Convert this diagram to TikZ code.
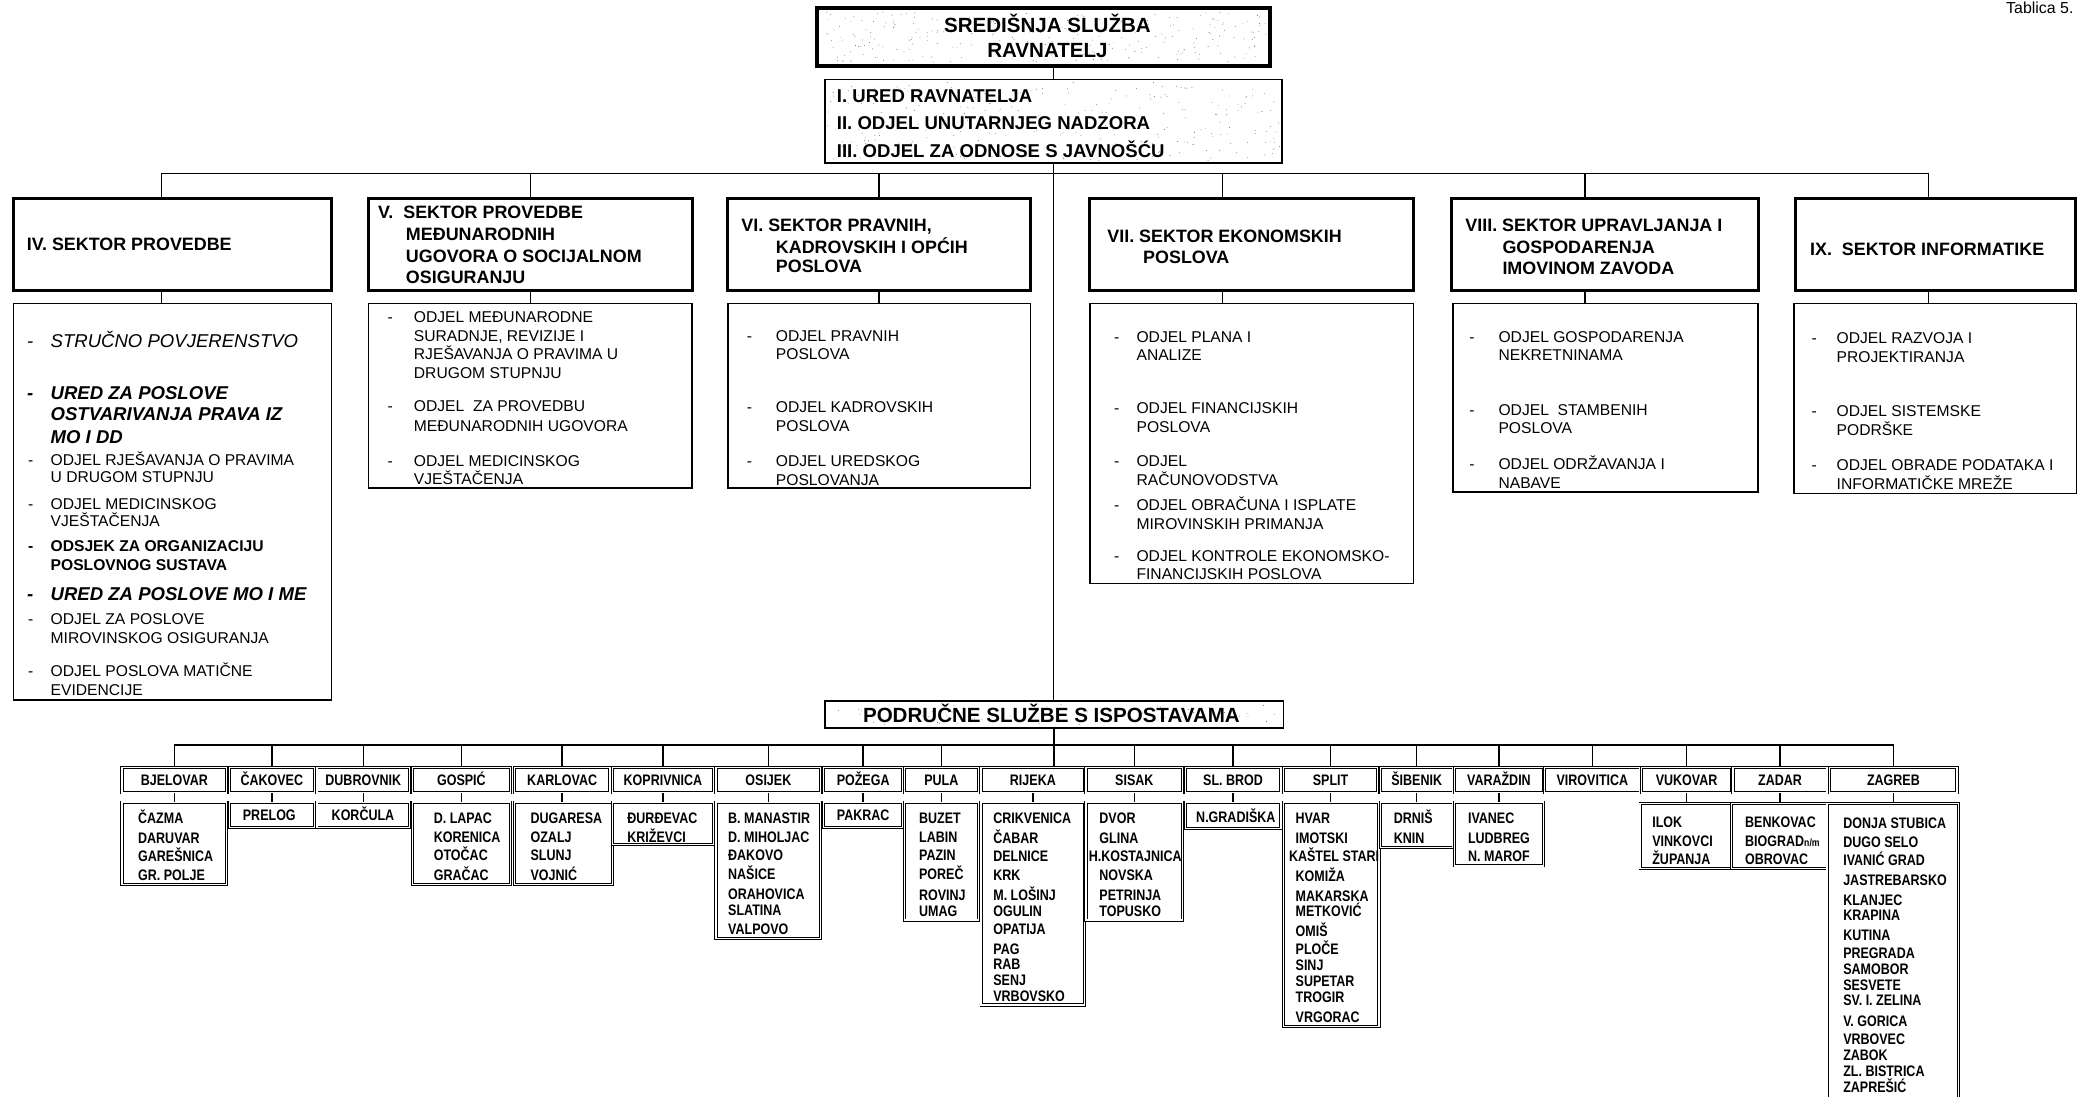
\documentclass[tikz,border=0pt]{standalone}
\usepackage{fontspec}
\setmainfont{Liberation Sans}
\newfontfamily\cond[FakeStretch=0.82]{Liberation Sans}
\newcommand\mydash[1]{\llap{-\hspace{#1pt}}}
\newcommand\mkbox[7]{\node[#2, minimum width={#5-#3}, minimum height={#6-#4}] (#1) at ({(#3+#5)/2},{(#4+#6)/2}) {#7};}
\newcommand\myspeck[5]{\foreach \k in {1,...,#5}{\fill[black!60] ({#1+rnd*(#3-#1)},{#2+rnd*(#4-#2)}) circle (0.33pt);}}
\newcommand\mylines[4]{\foreach \y/\t [count=\i] in {#4} {\node[#2] (#1-\i) at (#3,\y) {\t};}}
\newcommand\fbi{\fontsize{14}{16}\selectfont\bfseries\itshape}
\newcommand\fii{\fontsize{14}{16}\selectfont\itshape}
\newcommand\fbb{\bfseries}
\begin{document}
\begin{tikzpicture}[x=1pt,y=-1pt,
 conn/.style={line width=1.1pt},
 secbox/.style={draw, line width=2.3pt, inner sep=0pt},
 topbox/.style={draw, line width=3pt, inner sep=0pt},
 midbox/.style={draw, line width=1.4pt, inner sep=0pt},
 lstbox/.style={draw, line width=1.1pt, inner sep=0pt},
 regbox/.style={draw, double, double distance=1.1pt, line width=0.65pt, inner sep=0pt, font=\cond\bfseries\fontsize{11.5}{13}\selectfont, text height=8.2pt, text depth=0pt},
 subbox/.style={draw, double, double distance=1.1pt, line width=0.65pt, inner sep=0pt},
 titletxt/.style={anchor=west, inner sep=0pt, font=\bfseries\fontsize{13.5}{16}\selectfont, text height=9.7pt, text depth=0pt},
 itemtxt/.style={anchor=west, inner sep=0pt, font=\fontsize{11.8}{14}\selectfont, text height=8.4pt, text depth=0pt},
 subtxt/.style={anchor=west, inner sep=0pt, font=\cond\bfseries\fontsize{11.5}{13}\selectfont, text height=8.2pt, text depth=0pt},
 bigtxt/.style={inner sep=0pt, font=\bfseries\fontsize{15.5}{18}\selectfont, text height=11.1pt, text depth=0pt},
 urdtxt/.style={anchor=west, inner sep=0pt, font=\bfseries\fontsize{14}{16}\selectfont, text height=10pt, text depth=0pt}
]
\useasboundingbox (0,0) rectangle (1568,827);
\fill[white] (0,0) rectangle (1568,827);
\pgfmathsetseed{42}

\node[anchor=base east, inner sep=0pt, font=\fontsize{12}{14}\selectfont] (tab) at (1564,10) {Tablica 5.};

% top
\mkbox{top}{topbox}{616}{6}{958}{50}{}
\myspeck{619}{9}{955}{47}{260}
\node[bigtxt] (t1) at (790,19) {SREDIŠNJA SLUŽBA};
\node[bigtxt] (t2) at (790,38) {RAVNATELJ};

\mkbox{ured}{midbox}{622}{60}{967}{123}{}
\myspeck{624}{62}{965}{121}{260}
\node[urdtxt] (u1) at (631,72) {I. URED RAVNATELJA};
\node[urdtxt] (u2) at (631,93) {II. ODJEL UNUTARNJEG NADZORA};
\node[urdtxt] (u3) at (631,114) {III. ODJEL ZA ODNOSE S JAVNOŠĆU};

% sector boxes
\mkbox{sIV}{secbox}{10}{150}{250}{219}{}
\mkbox{sV}{secbox}{278}{150}{522}{219}{}
\mkbox{sVI}{secbox}{549}{150}{777}{219}{}
\mkbox{sVII}{secbox}{822}{150}{1066}{219}{}
\mkbox{sVIII}{secbox}{1095}{150}{1326}{219}{}
\mkbox{sIX}{secbox}{1354}{150}{1565}{219}{}

\node[titletxt] (hIV) at (20,184) {IV. SEKTOR PROVEDBE};
\node[titletxt] (hV1) at (285,160) {V.~~SEKTOR PROVEDBE};
\node[titletxt] (hV2) at (306,176.5) {MEĐUNARODNIH};
\node[titletxt] (hV3) at (306,193) {UGOVORA O SOCIJALNOM};
\node[titletxt] (hV4) at (306,209) {OSIGURANJU};
\node[titletxt] (hVI1) at (559,170) {VI. SEKTOR PRAVNIH,};
\node[titletxt] (hVI2) at (585,186) {KADROVSKIH I OPĆIH};
\node[titletxt] (hVI3) at (585,201) {POSLOVA};
\node[titletxt] (hVII1) at (835,178) {VII. SEKTOR EKONOMSKIH};
\node[titletxt] (hVII2) at (862,194) {POSLOVA};
\node[titletxt] (hVIII1) at (1105,170) {VIII. SEKTOR UPRAVLJANJA I};
\node[titletxt] (hVIII2) at (1133,186) {GOSPODARENJA};
\node[titletxt] (hVIII3) at (1133,202) {IMOVINOM ZAVODA};
\node[titletxt] (hIX) at (1365,188) {IX.~~SEKTOR INFORMATIKE};

% list boxes
\mkbox{lIV}{lstbox}{10}{229}{250}{528}{}
\mkbox{lV}{lstbox}{278}{229}{522}{368}{}
\mkbox{lVI}{lstbox}{549}{229}{777}{368}{}
\mkbox{lVII}{lstbox}{822}{229}{1066}{440}{}
\mkbox{lVIII}{lstbox}{1096}{229}{1326}{371}{}
\mkbox{lIX}{lstbox}{1353}{229}{1566}{372}{}

\mylines{iIV}{itemtxt}{38}{258/{\fii\mydash{13}STRUČNO POVJERENSTVO},
 297/{\fbi\mydash{13}URED ZA POSLOVE}, 313/{\fbi OSTVARIVANJA PRAVA IZ}, 330/{\fbi MO I DD},
 347/{\mydash{13}ODJEL RJEŠAVANJA O PRAVIMA}, 360/{U DRUGOM STUPNJU},
 380/{\mydash{13}ODJEL MEDICINSKOG}, 393/{VJEŠTAČENJA},
 412/{\fbb\mydash{13}ODSJEK ZA ORGANIZACIJU}, 426/{\fbb POSLOVNOG SUSTAVA},
 449/{\fbi\mydash{13}URED ZA POSLOVE MO I ME},
 467/{\mydash{13}ODJEL ZA POSLOVE}, 481/{MIROVINSKOG OSIGURANJA},
 506/{\mydash{13}ODJEL POSLOVA MATIČNE}, 520/{EVIDENCIJE}}
\mylines{iV}{itemtxt}{312}{239/{\mydash{16}ODJEL MEĐUNARODNE}, 253/{SURADNJE, REVIZIJE I},
 267/{RJEŠAVANJA O PRAVIMA U}, 281/{DRUGOM STUPNJU},
 306/{\mydash{16}ODJEL~~ZA PROVEDBU}, 321/{MEĐUNARODNIH UGOVORA},
 348/{\mydash{16}ODJEL MEDICINSKOG}, 361/{VJEŠTAČENJA}}
\mylines{iVI}{itemtxt}{585}{253/{\mydash{18}ODJEL PRAVNIH}, 267/{POSLOVA},
 307/{\mydash{18}ODJEL KADROVSKIH}, 321/{POSLOVA},
 348/{\mydash{18}ODJEL UREDSKOG}, 362/{POSLOVANJA}}
\mylines{iVII}{itemtxt}{857}{254/{\mydash{13}ODJEL PLANA I}, 268/{ANALIZE},
 308/{\mydash{13}ODJEL FINANCIJSKIH}, 322/{POSLOVA},
 348/{\mydash{13}ODJEL}, 362/{RAČUNOVODSTVA},
 381/{\mydash{13}ODJEL OBRAČUNA I ISPLATE}, 395/{MIROVINSKIH PRIMANJA},
 419/{\mydash{13}ODJEL KONTROLE EKONOMSKO-}, 433/{FINANCIJSKIH POSLOVA}}
\mylines{iVIII}{itemtxt}{1130}{254/{\mydash{18}ODJEL GOSPODARENJA}, 268/{NEKRETNINAMA},
 309/{\mydash{18}ODJEL~~STAMBENIH}, 323/{POSLOVA},
 350/{\mydash{18}ODJEL ODRŽAVANJA I}, 364/{NABAVE}}
\mylines{iIX}{itemtxt}{1385}{255/{\mydash{15}ODJEL RAZVOJA I}, 269/{PROJEKTIRANJA},
 310/{\mydash{15}ODJEL SISTEMSKE}, 324/{PODRŠKE},
 351/{\mydash{15}ODJEL OBRADE PODATAKA I}, 365/{INFORMATIČKE MREŽE}}

% sector connectors
\coordinate (sb) at (795,131);
\draw[conn] (top.south -| ured.north) -- (ured.north);
\draw[conn] ([xshift=-8pt]sIV.north) |- ([xshift=-5pt]sIX.north |- sb) -- ([xshift=-5pt]sIX.north);
\draw[conn] (sV.north) -- (sV.north |- sb);
\draw[conn] (sVI.north) -- (sVI.north |- sb);
\draw[conn] ([xshift=-22pt]sVII.north) -- ([xshift=-22pt]sVII.north |- sb);
\draw[conn] ([xshift=-15pt]sVIII.north) -- ([xshift=-15pt]sVIII.north |- sb);
\draw[conn] ([xshift=-8pt]sIV.south) -- ([xshift=-8pt]sIV.south |- lIV.north);
\draw[conn] (sV.south) -- (sV.south |- lV.north);
\draw[conn] (sVI.south) -- (sVI.south |- lVI.north);
\draw[conn] ([xshift=-22pt]sVII.south) -- ([xshift=-22pt]sVII.south |- lVII.north);
\draw[conn] ([xshift=-15pt]sVIII.south) -- ([xshift=-15pt]sVIII.south |- lVIII.north);
\draw[conn] ([xshift=-5pt]sIX.south) -- ([xshift=-5pt]sIX.south |- lIX.north);

% regional
\mkbox{podr}{midbox}{622}{529}{968}{549}{}
\myspeck{624}{531}{966}{547}{60}
\node[bigtxt] (ptxt) at (793,539) {PODRUČNE SLUŽBE S ISPOSTAVAMA};
\draw[conn] (ured.south) -- (podr.north -| ured.south);

\mkbox{rBJ}{regbox}{92}{579}{171}{598}{BJELOVAR}
\mkbox{rCA}{regbox}{173}{579}{237}{598}{ČAKOVEC}
\mkbox{rDU}{regbox}{239}{579}{309}{598}{DUBROVNIK}
\mkbox{rGO}{regbox}{311}{579}{385}{598}{GOSPIĆ}
\mkbox{rKA}{regbox}{388}{579}{460}{598}{KARLOVAC}
\mkbox{rKO}{regbox}{462}{579}{538}{598}{KOPRIVNICA}
\mkbox{rOS}{regbox}{540}{579}{619}{598}{OSIJEK}
\mkbox{rPO}{regbox}{621}{579}{681}{598}{POŽEGA}
\mkbox{rPU}{regbox}{682}{579}{738}{598}{PULA}
\mkbox{rRI}{regbox}{740}{579}{818}{598}{RIJEKA}
\mkbox{rSI}{regbox}{819}{579}{892}{598}{SISAK}
\mkbox{rSB}{regbox}{894}{579}{966}{598}{SL. BROD}
\mkbox{rSP}{regbox}{968}{579}{1039}{598}{SPLIT}
\mkbox{rSIB}{regbox}{1041}{579}{1096}{598}{ŠIBENIK}
\mkbox{rVA}{regbox}{1097}{579}{1164}{598}{VARAŽDIN}
\mkbox{rVI}{regbox}{1165}{579}{1237}{598}{VIROVITICA}
\mkbox{rVU}{regbox}{1238}{579}{1306}{598}{VUKOVAR}
\mkbox{rZD}{regbox}{1307}{579}{1378}{598}{ZADAR}
\mkbox{rZG}{regbox}{1380}{579}{1476}{598}{ZAGREB}

\coordinate (rb) at (795,562);
\draw[conn] (podr.south) -- (rRI.north -| podr.south);
\draw[conn] (rBJ.north) |- (rZG.north |- rb) -- (rZG.north);
\foreach \n in {rCA,rDU,rGO,rKA,rKO,rOS,rPO,rPU,rSI,rSB,rSP,rSIB,rVA,rVI,rVU,rZD}
  \draw[conn] (\n.north) -- (\n.north |- rb);

% sublists
\mkbox{sBJ}{subbox}{92}{605}{171}{667}{}
\mylines{tBJ}{subtxt}{104}{617/ČAZMA,632/DARUVAR,646/GAREŠNICA,660/GR. POLJE}
\mkbox{sCA}{subbox}{173}{605}{237}{624}{}
\mylines{tCA}{subtxt}{183}{615/PRELOG}
\mkbox{sDU}{subbox}{239}{605}{309}{624}{}
\mylines{tDU}{subtxt}{250}{615/KORČULA}
\mkbox{sGO}{subbox}{311}{605}{385}{667}{}
\mylines{tGO}{subtxt}{327}{617/D. LAPAC,631/KORENICA,645/OTOČAC,660/GRAČAC}
\mkbox{sKA}{subbox}{388}{605}{462}{667}{}
\mylines{tKA}{subtxt}{400}{617/DUGARESA,631/OZALJ,645/SLUNJ,660/VOJNIĆ}
\mkbox{sKO}{subbox}{462}{605}{538}{637}{}
\mylines{tKO}{subtxt}{473}{617/ĐURĐEVAC,631/KRIŽEVCI}
\mkbox{sOS}{subbox}{540}{605}{619}{708}{}
\mylines{tOS}{subtxt}{549}{617/B. MANASTIR,631/D. MIHOLJAC,645/ĐAKOVO,659/NAŠICE,674/ORAHOVICA,686/SLATINA,701/VALPOVO}
\mkbox{sPO}{subbox}{621}{605}{681}{624}{}
\mylines{tPO}{subtxt}{631}{615/PAKRAC}
\mkbox{sPU}{subbox}{682}{605}{738}{694}{}
\mylines{tPU}{subtxt}{693}{617/BUZET,631/LABIN,645/PAZIN,659/POREČ,675/ROVINJ,687/UMAG}
\mkbox{sRI}{subbox}{740}{605}{818}{758}{}
\mylines{tRI}{subtxt}{749}{617/CRIKVENICA,632/ČABAR,646/DELNICE,660/KRK,675/M. LOŠINJ,687/OGULIN,701/OPATIJA,716/PAG,727/RAB,739/SENJ,751/VRBOVSKO}
\mkbox{sSI}{subbox}{819}{605}{892}{694}{}
\mylines{tSI}{subtxt}{829}{617/DVOR,632/GLINA,646/{\hspace*{-8pt}H.KOSTAJNICA},660/NOVSKA,675/PETRINJA,687/TOPUSKO}
\mkbox{sSB}{subbox}{894}{605}{966}{625}{}
\mylines{tSB}{subtxt}{902}{616/N.GRADIŠKA}
\mkbox{sSP}{subbox}{968}{605}{1040}{774}{}
\mylines{tSP}{subtxt}{977}{617/HVAR,632/IMOTSKI,646/{\hspace*{-5pt}KAŠTEL STARI},661/KOMIŽA,676/MAKARSKA,687/METKOVIĆ,702/OMIŠ,716/PLOČE,728/SINJ,740/SUPETAR,752/TROGIR,767/VRGORAC}
\mkbox{sSIB}{subbox}{1041}{605}{1096}{639}{}
\mylines{tSIB}{subtxt}{1051}{617/DRNIŠ,632/KNIN}
\mkbox{sVA}{subbox}{1097}{605}{1164}{653}{}
\mylines{tVA}{subtxt}{1107}{617/IVANEC,632/LUDBREG,646/N. MAROF}
\mkbox{sVU}{subbox}{1237}{606}{1306}{655}{}
\mylines{tVU}{subtxt}{1246}{620/ILOK,634/VINKOVCI,648/ŽUPANJA}
\mkbox{sZD}{subbox}{1306}{606}{1378}{655}{}
\mylines{tZD}{subtxt}{1316}{620/BENKOVAC,634/{BIOGRAD{\fontsize{8}{9}\selectfont n/m}},648/OBROVAC}
\mkbox{sZG}{subbox}{1378}{606}{1477}{840}{}
\mylines{tZG}{subtxt}{1390}{621/DONJA STUBICA,635/DUGO SELO,649/IVANIĆ GRAD,664/JASTREBARSKO,679/KLANJEC,690/KRAPINA,705/KUTINA,719/PREGRADA,731/SAMOBOR,743/SESVETE,754/SV. I. ZELINA,770/V. GORICA,784/VRBOVEC,796/ZABOK,808/ZL. BISTRICA,820/ZAPREŠIĆ}

\foreach \a/\b in {rBJ/sBJ,rCA/sCA,rDU/sDU,rGO/sGO,rKA/sKA,rKO/sKO,rOS/sOS,rPO/sPO,rPU/sPU,rRI/sRI,rSI/sSI,rSB/sSB,rSP/sSP,rSIB/sSIB,rVA/sVA,rVU/sVU,rZD/sZD,rZG/sZG}
  \draw[conn] (\a.south) -- (\b.north -| \a.south);
\end{tikzpicture}
\end{document}
